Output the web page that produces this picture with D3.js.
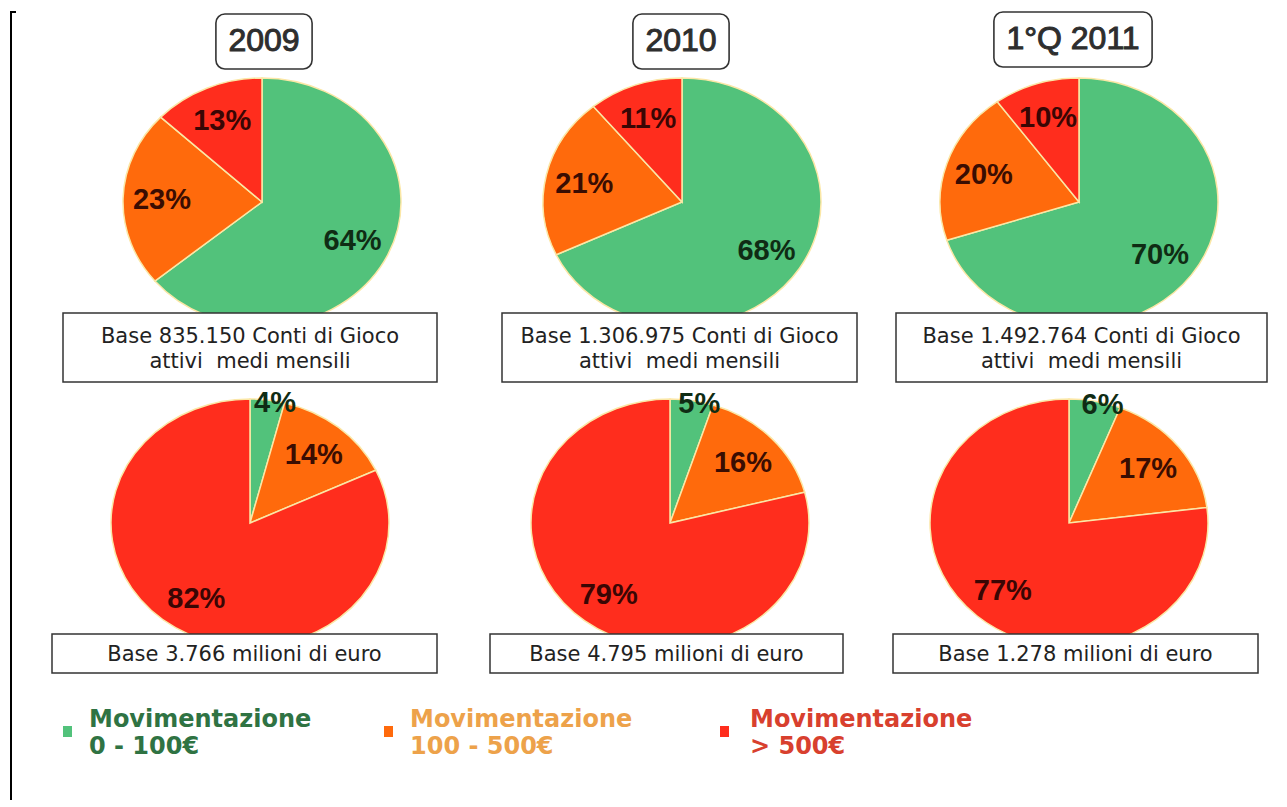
<!DOCTYPE html>
<html>
<head>
<meta charset="utf-8">
<script src="https://cdn.jsdelivr.net/npm/d3@7"></script>
<style>
  html, body { margin: 0; padding: 0; background: #ffffff; }
  svg { display: block; }
</style>
</head>
<body>
<svg id="chart" width="1287" height="807"></svg>
<script>
// Periods shown in the three columns
const periods = ["2009", "2010", "1°Q 2011"];

// Spending bands (legend)
const bandNames = ["Movimentazione", "Movimentazione", "Movimentazione"];
const bandRanges = ["0 - 100€", "100 - 500€", "> 500€"];

// Share of active gaming accounts per band (%), one row per period
const accountShares = [
  [64, 23, 13],
  [68, 21, 11],
  [70, 20, 10]
];

// Share of money moved per band (%), one row per period
const volumeShares = [
  [4, 14, 82],
  [5, 16, 79],
  [6, 17, 77]
];

// Base notes under each pie
const accountBases = [
  "Base 835.150 Conti di Gioco",
  "Base 1.306.975 Conti di Gioco",
  "Base 1.492.764 Conti di Gioco"
];
const accountBaseSub = "attivi  medi mensili";
const volumeBases = [
  "Base 3.766 milioni di euro",
  "Base 4.795 milioni di euro",
  "Base 1.278 milioni di euro"
];

// ---- styling / layout ----
const sliceColors = ["#52c27b", "#ff6a0c", "#ff2d1d"];
const labelColors = ["#0f2c14", "#3a0d02", "#3a0604"];
const legendTextColors = ["#2f7343", "#eda24a", "#d8402e"];

const rx = 139, ry = 124, k = ry / rx;

const layout = {
  topCx: [262, 682, 1079],
  topCy: 202,
  botCx: [250, 670, 1069],
  botCy: 523,
  titleCx: [264, 681, 1073],
  titleTop: [14, 14, 12],
  titleH: 55,
  topBox: [[63, 437], [502, 857], [896, 1267]],
  topBoxY: [313, 382],
  botBox: [[52, 437], [490, 843], [893, 1258]],
  botBoxY: [634, 673],
  legendMarkX: [63, 384, 720],
  legendTextX: [89, 410, 750]
};

const svg = d3.select("#chart");

// left frame line
svg.append("path")
  .attr("d", "M11,800 L11,12 L16,12")
  .attr("fill", "none")
  .attr("stroke", "#000")
  .attr("stroke-width", 2);

const pie = d3.pie().sort(null).value(d => d);
const arc = d3.arc().innerRadius(0).outerRadius(rx);

function drawPie(values, cx, cy) {
  const arcs = pie(values);
  const g = svg.append("g").attr("transform", `translate(${cx},${cy})`);
  g.append("g")
    .attr("transform", `scale(1,${k})`)
    .selectAll("path")
    .data(arcs)
    .join("path")
    .attr("d", arc)
    .attr("fill", (d, i) => sliceColors[i])
    .attr("stroke", "#fbe7a6")
    .attr("stroke-width", 1.5)
    .attr("vector-effect", "non-scaling-stroke");

  g.selectAll("text")
    .data(arcs)
    .join("text")
    .each(function (d, i) {
      const share = d.value / d3.sum(values);
      const r = share < 0.08 ? rx * 0.98 : rx * 0.72;
      const c = d3.arc().innerRadius(r).outerRadius(r).centroid(d);
      d3.select(this)
        .attr("x", c[0] + (share < 0.08 ? 8 : 0))
        .attr("y", c[1] * k)
        .attr("fill", labelColors[i]);
    })
    .attr("text-anchor", "middle")
    .attr("dominant-baseline", "central")
    .attr("font-family", "'Liberation Sans', Arial, sans-serif")
    .attr("font-weight", "bold")
    .attr("font-size", 29)
    .text(d => d.value + "%");
}

periods.forEach((p, i) => {
  drawPie(accountShares[i], layout.topCx[i], layout.topCy);
  drawPie(volumeShares[i], layout.botCx[i], layout.botCy);
});

// period title boxes
periods.forEach((p, i) => {
  const g = svg.append("g");
  const t = g.append("text")
    .attr("x", layout.titleCx[i])
    .attr("y", layout.titleTop[i] + 37)
    .attr("text-anchor", "middle")
    .attr("font-family", "'Liberation Sans', Arial, sans-serif")
    .attr("font-size", 32)
    .attr("fill", "#2e2e2e")
    .attr("stroke", "#2e2e2e")
    .attr("stroke-width", 1)
    .text(p);
  const w = t.node().getComputedTextLength() + 25;
  g.insert("rect", "text")
    .attr("x", layout.titleCx[i] - w / 2)
    .attr("y", layout.titleTop[i])
    .attr("width", w)
    .attr("height", layout.titleH)
    .attr("rx", 9)
    .attr("fill", "#fff")
    .attr("stroke", "#333")
    .attr("stroke-width", 1.6);
});

// base note boxes
function noteBox(x0, x1, y0, y1, lines, baselines) {
  svg.append("rect")
    .attr("x", x0).attr("y", y0)
    .attr("width", x1 - x0).attr("height", y1 - y0)
    .attr("fill", "#fff")
    .attr("stroke", "#333")
    .attr("stroke-width", 1.5);
  lines.forEach((s, j) => {
    svg.append("text")
      .attr("x", (x0 + x1) / 2)
      .attr("y", baselines[j])
      .attr("text-anchor", "middle")
      .attr("font-family", "'DejaVu Sans', sans-serif")
      .attr("font-size", 21)
      .attr("fill", "#222")
      .attr("xml:space", "preserve")
      .style("white-space", "pre")
      .text(s);
  });
}

periods.forEach((p, i) => {
  noteBox(layout.topBox[i][0], layout.topBox[i][1], layout.topBoxY[0], layout.topBoxY[1],
    [accountBases[i], accountBaseSub], [343, 368]);
  noteBox(layout.botBox[i][0], layout.botBox[i][1], layout.botBoxY[0], layout.botBoxY[1],
    [volumeBases[i]], [661]);
});

// legend
bandNames.forEach((name, i) => {
  svg.append("rect")
    .attr("x", layout.legendMarkX[i])
    .attr("y", 726)
    .attr("width", 9)
    .attr("height", 11)
    .attr("fill", sliceColors[i]);
  const t = svg.append("text")
    .attr("font-family", "'DejaVu Sans', sans-serif")
    .attr("font-weight", "bold")
    .attr("font-size", 24)
    .attr("fill", legendTextColors[i]);
  t.append("tspan").attr("x", layout.legendTextX[i]).attr("y", 727).text(name);
  t.append("tspan").attr("x", layout.legendTextX[i]).attr("y", 754).text(bandRanges[i]);
});
</script>
</body>
</html>
